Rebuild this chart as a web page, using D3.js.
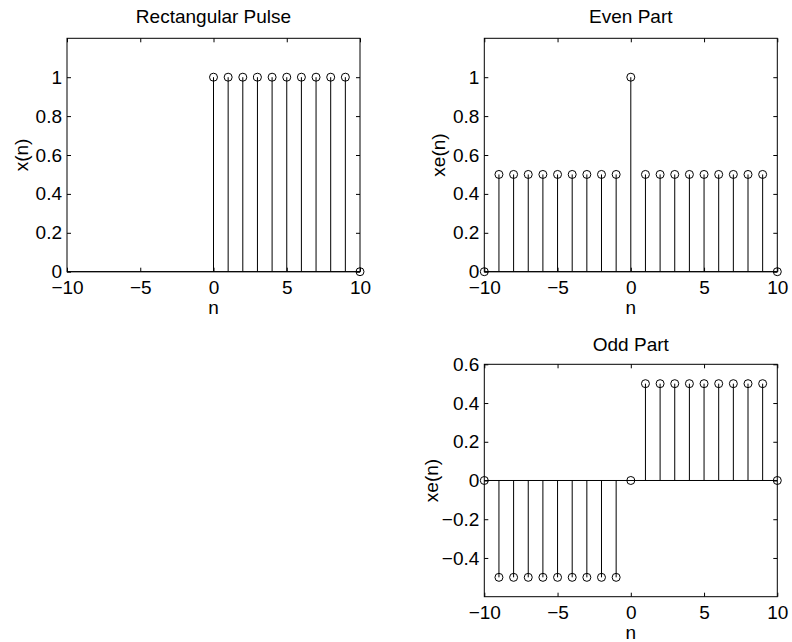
<!DOCTYPE html>
<html>
<head>
<meta charset="utf-8">
<script src="https://cdn.jsdelivr.net/npm/d3@7"></script>
<style>
body { margin: 0; background: #fff; }
svg { font-family: "Liberation Sans", Arial, sans-serif; }
.axis text { font-size: 19px; fill: #000; font-family: "Liberation Sans", Arial, sans-serif; }
.axis line { stroke: #000; }
</style>
</head>
<body>
<div id="chart"></div>
<script>

// sample index and values
var nRect = [0, 1, 2, 3, 4, 5, 6, 7, 8, 9, 10];
var xRect = [1, 1, 1, 1, 1, 1, 1, 1, 1, 1, 0];

var nSym = [-10, -9, -8, -7, -6, -5, -4, -3, -2, -1, 0, 1, 2, 3, 4, 5, 6, 7, 8, 9, 10];
var xEven = [0, 0.5, 0.5, 0.5, 0.5, 0.5, 0.5, 0.5, 0.5, 0.5, 1, 0.5, 0.5, 0.5, 0.5, 0.5, 0.5, 0.5, 0.5, 0.5, 0];
var xOdd = [0, -0.5, -0.5, -0.5, -0.5, -0.5, -0.5, -0.5, -0.5, -0.5, 0, 0.5, 0.5, 0.5, 0.5, 0.5, 0.5, 0.5, 0.5, 0.5, 0];

// tick labels
var xTicks = [-10, -5, 0, 5, 10];
var yTicksTop = [0, 0.2, 0.4, 0.6, 0.8, 1];
var yTicksOdd = [-0.4, -0.2, 0, 0.2, 0.4, 0.6];

var svg = d3.select("#chart")
  .append("svg")
    .attr("width", 792)
    .attr("height", 642);

function fmt(d) {
  var s = d3.format("~g")(d);
  return s.replace("-", "\u2212");
}

function stemPlot(o) {
  var width = o.right - o.left,
      height = o.bottom - o.top;

  var g = svg.append("g")
    .attr("transform", "translate(" + o.left + "," + o.top + ")");

  var x = d3.scaleLinear().domain([-10, 10]).range([0, width]);
  var y = d3.scaleLinear().domain(o.ydomain).range([height, 0]);

  // ticks on all four sides, pointing in
  g.append("g").attr("class", "axis")
    .attr("transform", "translate(0," + height + ")")
    .call(d3.axisBottom(x).tickValues(xTicks).tickFormat(fmt).tickSizeInner(-4).tickSizeOuter(0).tickPadding(8.5));
  g.append("g").attr("class", "axis")
    .call(d3.axisTop(x).tickValues(xTicks).tickFormat("").tickSizeInner(-4).tickSizeOuter(0));
  g.append("g").attr("class", "axis")
    .call(d3.axisLeft(y).tickValues(o.yticks).tickFormat(fmt).tickSizeInner(-4).tickSizeOuter(0).tickPadding(5));
  g.append("g").attr("class", "axis")
    .attr("transform", "translate(" + width + ",0)")
    .call(d3.axisRight(y).tickValues(o.yticks).tickFormat("").tickSizeInner(-4).tickSizeOuter(0));
  g.selectAll(".axis .domain").remove();

  // baseline
  g.append("line")
    .attr("x1", x(-10)).attr("x2", x(10))
    .attr("y1", y(0)).attr("y2", y(0))
    .attr("stroke", "#000");

  // stems
  g.selectAll("mystem")
    .data(o.n)
    .enter()
    .append("line")
      .attr("x1", function(d) { return x(d); })
      .attr("x2", function(d) { return x(d); })
      .attr("y1", y(0))
      .attr("y2", function(d, i) { return y(o.v[i]); })
      .attr("stroke", "#000");

  // box
  g.append("rect")
    .attr("width", width).attr("height", height)
    .attr("fill", "none").attr("stroke", "#000");

  // circles
  g.selectAll("mycircle")
    .data(o.n)
    .enter()
    .append("circle")
      .attr("cx", function(d) { return x(d); })
      .attr("cy", function(d, i) { return y(o.v[i]); })
      .attr("r", 4)
      .attr("fill", "none")
      .attr("stroke", "#000");

  // title and labels
  g.append("text")
    .attr("x", width / 2).attr("y", -o.titleGap)
    .attr("text-anchor", "middle")
    .style("font-size", "19px")
    .text(o.title);
  g.append("text")
    .attr("x", width / 2).attr("y", height + 42)
    .attr("text-anchor", "middle")
    .style("font-size", "19px")
    .text("n");
  g.append("text")
    .attr("transform", "translate(" + (-o.ylabGap) + "," + (height / 2) + ")rotate(-90)")
    .attr("text-anchor", "middle")
    .style("font-size", "19px")
    .text(o.ylabel);
}

stemPlot({ left: 67, right: 360, top: 38.3, bottom: 271.7, ydomain: [0, 1.2], yticks: yTicksTop,
  n: nRect, v: xRect, title: "Rectangular Pulse", ylabel: "x(n)", ylabGap: 39, titleGap: 15 });

stemPlot({ left: 484.3, right: 777.3, top: 38.3, bottom: 271.7, ydomain: [0, 1.2], yticks: yTicksTop,
  n: nSym, v: xEven, title: "Even Part", ylabel: "xe(n)", ylabGap: 39, titleGap: 15 });

stemPlot({ left: 484.3, right: 777.3, top: 364.3, bottom: 596.7, ydomain: [-0.6, 0.6], yticks: yTicksOdd,
  n: nSym, v: xOdd, title: "Odd Part", ylabel: "xe(n)", ylabGap: 46, titleGap: 13 });

</script>
</body>
</html>
